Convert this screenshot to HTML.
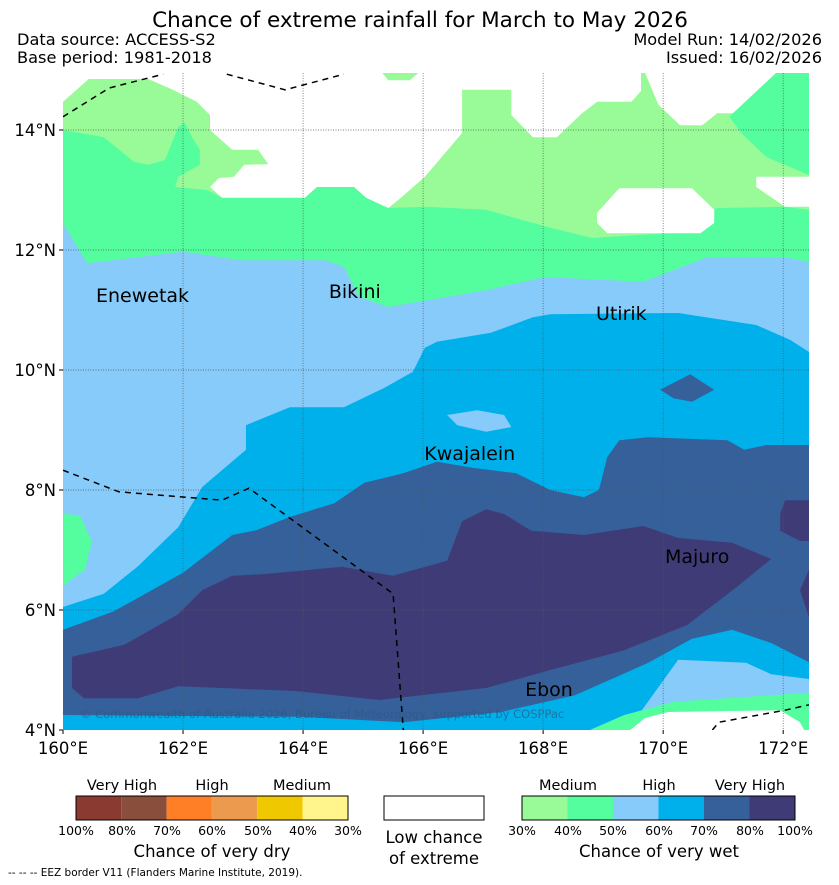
<!DOCTYPE html>
<html><head><meta charset="utf-8">
<style>
body{margin:0;background:#fff;width:839px;height:885px;overflow:hidden;font-family:"DejaVu Sans","Liberation Sans",sans-serif;}
svg{display:block}
</style></head>
<body>
<svg id="chart" width="839" height="885" viewBox="0 0 839 885" xmlns="http://www.w3.org/2000/svg">
<text x="420" y="27" font-size="21.5" text-anchor="middle">Chance of extreme rainfall for March to May 2026</text>
<text x="17" y="45" font-size="16.2">Data source: ACCESS-S2</text>
<text x="17" y="63" font-size="16.2">Base period: 1981-2018</text>
<text x="822" y="45" font-size="16.2" text-anchor="end">Model Run: 14/02/2026</text>
<text x="822" y="63" font-size="16.2" text-anchor="end">Issued: 16/02/2026</text>
<defs><clipPath id="pc"><rect x="63" y="73" width="746" height="657"/></clipPath></defs>
<g id="map" clip-path="url(#pc)"></g>
<g id="axes"></g>
<g id="legend">
 <g>
  <rect x="76" y="796" width="45.3" height="24" fill="#8b3a32"/>
  <rect x="121.3" y="796" width="45.3" height="24" fill="#8a4e3c"/>
  <rect x="166.6" y="796" width="45.3" height="24" fill="#ff7f27"/>
  <rect x="211.9" y="796" width="45.3" height="24" fill="#ec9b4e"/>
  <rect x="257.2" y="796" width="45.3" height="24" fill="#efc800"/>
  <rect x="302.5" y="796" width="45.5" height="24" fill="#fff58c"/>
  <rect x="76" y="796" width="272" height="24" fill="none" stroke="#000" stroke-width="1"/>
 </g>
 <g font-size="14.5" text-anchor="middle">
  <text x="122" y="790">Very High</text><text x="212" y="790">High</text><text x="302" y="790">Medium</text>
  <text x="568" y="790">Medium</text><text x="659" y="790">High</text><text x="750" y="790">Very High</text>
 </g>
 <g font-size="12.5" text-anchor="middle">
  <text x="76" y="835">100%</text><text x="122" y="835">80%</text><text x="167" y="835">70%</text><text x="212" y="835">60%</text><text x="258" y="835">50%</text><text x="303" y="835">40%</text><text x="348" y="835">30%</text>
 </g>
 <text x="212" y="857" font-size="16.5" text-anchor="middle">Chance of very dry</text>
 <rect x="384" y="796" width="100" height="24" fill="#fff" stroke="#000"/>
 <text x="434" y="843" font-size="16.5" text-anchor="middle">Low chance</text>
 <text x="434" y="864" font-size="16.5" text-anchor="middle">of extreme</text>
 <g>
  <rect x="522" y="796" width="45.5" height="24" fill="#98fb98"/>
  <rect x="567.5" y="796" width="45.5" height="24" fill="#54fd9e"/>
  <rect x="613" y="796" width="45.5" height="24" fill="#87cbfa"/>
  <rect x="658.5" y="796" width="45.5" height="24" fill="#00b0eb"/>
  <rect x="704" y="796" width="45.5" height="24" fill="#35609a"/>
  <rect x="749.5" y="796" width="45.5" height="24" fill="#3f3b77"/>
  <rect x="522" y="796" width="273" height="24" fill="none" stroke="#000"/>
 </g>
 <g font-size="12.5" text-anchor="middle">
  <text x="522" y="835">30%</text><text x="568" y="835">40%</text><text x="613" y="835">50%</text><text x="659" y="835">60%</text><text x="704" y="835">70%</text><text x="750" y="835">80%</text><text x="795" y="835">100%</text>
 </g>
 <text x="659" y="857" font-size="16.5" text-anchor="middle">Chance of very wet</text>
</g>
<text x="8" y="876" font-size="10.5">--  --  -- EEZ border V11 (Flanders Marine Institute, 2019).</text>
</svg>
<script>
const lonTicks=[160,162,164,166,168,170,172];
const latTicks=[4,6,8,10,12,14];
const LON0=160,LON1=172.43,LAT0=4,LAT1=14.95;
const X0=63,X1=809,Y0=730,Y1=73;
function xs(lon){return X0+(lon-LON0)/(LON1-LON0)*(X1-X0);}
function ys(lat){return Y0-(lat-LAT0)/(LAT1-LAT0)*(Y0-Y1);}

const C={pg:"#98fb98",g:"#54fd9e",ls:"#87cbfa",b:"#00b0eb",db:"#35609a",dd:"#3f3b77",w:"#ffffff"};

const greenTop=[[160,14.95],[172.43,14.95],[172.43,11.8],[172.03,11.88],[170.73,11.88],[169.67,11.47],[168.03,11.55],[167.05,11.33],[165.42,11.05],[164.93,11.22],[164.68,11.72],[164.37,11.83],[162.97,11.83],[162,11.97],[160.4,11.78],[160,12.45]];
const paleGreen=[[160,14.95],[172.43,14.95],[172.43,12.67],[172.03,12.72],[170.9,12.7],[170.08,12.28],[168.82,12.2],[168.12,12.37],[167.05,12.67],[166.03,12.72],[165.42,12.7],[165.05,12.87],[164.85,13.05],[164.23,13.05],[164.03,12.87],[162.65,12.87],[162.4,13.0],[161.87,13.05],[161.92,13.22],[162.28,13.42],[162.28,13.67],[162.15,13.88],[162.03,14.12],[161.92,14.05],[161.7,13.5],[161.42,13.42],[161.18,13.47],[160.68,13.88],[160,14.0]];
const whiteTop=[[160,14.95],[160,14.47],[160.43,14.85],[161.42,14.85],[161.83,14.67],[162.23,14.47],[162.45,14.25],[162.45,14.0],[162.82,13.67],[163.25,13.67],[163.42,13.43],[163.02,13.42],[162.85,13.22],[162.6,13.2],[162.45,13.05],[162.65,12.87],[164.03,12.87],[164.23,13.05],[164.85,13.05],[165.05,12.87],[165.42,12.7],[165.63,12.87],[166.03,13.22],[166.65,13.95],[166.65,14.67],[167.47,14.67],[167.47,14.25],[167.83,13.88],[168.23,13.88],[168.65,14.28],[168.9,14.47],[169.47,14.47],[169.63,14.65],[169.63,14.95],[169.7,14.95],[169.92,14.42],[170.28,14.08],[170.65,14.08],[170.9,14.28],[171.3,14.28],[171.88,14.95]];
const greenRight=[[171.88,14.95],[172.43,14.95],[172.43,13.25],[171.72,13.55],[171.3,13.95],[171.1,14.22]];
const whiteRight=[[171.55,13.22],[172.43,13.22],[172.43,12.72],[172.03,12.72],[171.55,13.05]];
const whiteMid=[[168.9,12.62],[169.27,13.03],[170.48,13.03],[170.85,12.67],[170.85,12.45],[170.62,12.28],[169.07,12.28],[168.9,12.45]];
const paleTopPatch=[[165.32,14.95],[165.92,14.95],[165.78,14.83],[165.42,14.83]];
const blueZone=[[160,6.05],[160.68,6.27],[161.25,6.73],[161.92,7.38],[162.32,8.05],[163.05,8.67],[163.05,9.08],[163.78,9.38],[164.68,9.38],[165.35,9.7],[165.83,9.97],[166.03,10.37],[166.23,10.47],[167.13,10.62],[167.83,10.88],[168.12,10.93],[170.25,10.95],[171.55,10.75],[172.12,10.5],[172.43,10.3],[172.43,4.85],[171.8,4.93],[171.38,5.12],[170.25,5.17],[169.5,4.13],[169.18,4],[160,4]];
const skyHole=[[166.4,9.25],[166.9,9.33],[167.35,9.25],[167.47,9.05],[167.05,8.97],[166.57,9.08]];
const darkPatch=[[169.95,9.67],[170.45,9.93],[170.85,9.67],[170.48,9.47],[170.17,9.53]];
const darkZone=[[160,5.67],[160.85,5.98],[162,6.62],[162.82,7.25],[163.22,7.33],[163.78,7.55],[164.52,7.78],[165.02,8.12],[165.67,8.28],[166.23,8.47],[166.82,8.37],[167.55,8.28],[168.12,8.0],[168.68,7.88],[168.93,8.0],[169.07,8.55],[169.27,8.83],[169.75,8.88],[171.07,8.83],[171.35,8.67],[171.72,8.75],[172.43,8.75],[172.43,5.13],[171.8,5.45],[171.15,5.67],[170.48,5.52],[169.75,5.12],[168.53,4.58],[167.3,4.3],[165.67,4.13],[163.95,4.22],[160,4.25]];
const darkestZone=[[160.15,5.22],[161.02,5.42],[161.92,5.93],[162.32,6.33],[162.82,6.57],[163.38,6.6],[164.65,6.72],[165.5,6.57],[166.4,6.82],[166.65,7.48],[167.05,7.68],[167.35,7.6],[167.8,7.32],[168.68,7.25],[169.67,7.4],[170.25,7.2],[171.15,7.12],[171.8,6.85],[171.22,6.38],[170.4,5.75],[169.35,5.33],[168.12,5.0],[167.05,4.7],[165.27,4.5],[163.87,4.65],[161.92,4.73],[161.25,4.53],[160.35,4.53],[160.15,4.7]];
const darkestRight1=[[172.03,7.83],[172.43,7.83],[172.43,7.15],[172.28,7.15],[171.95,7.32],[171.95,7.6]];
const darkestRight2=[[172.43,6.67],[172.43,5.88],[172.28,6.33]];
const greenBottom=[[172.43,4.62],[171.38,4.55],[170.17,4.47],[169.35,4.25],[168.78,4],[172.43,4]];
const whiteBottom=[[169.45,4],[169.7,4.2],[170.08,4.3],[171.95,4.33],[172.28,4.13],[172.35,4]];
const greenLeft=[[160,7.6],[160.28,7.58],[160.48,7.15],[160.37,6.68],[160,6.4]];

const eez1=[[160,14.22],[160.77,14.7],[161.67,14.93]];
const eez2=[[162.73,14.93],[163.7,14.67],[164.68,14.93]];
const eez3=[[160,8.33],[160.93,7.97],[162.65,7.83],[163.1,8.03],[165.5,6.27],[165.67,4]];
const eez4=[[170.82,4],[170.93,4.13],[172.03,4.33],[172.43,4.42]];

const placeNames=["Enewetak","Bikini","Utirik","Kwajalein","Majuro","Ebon"];
const placeLon=[160.55,164.43,168.88,166.02,170.03,167.7];
const placeLat=[11.13,11.2,10.83,8.5,6.78,4.57];

const NS="http://www.w3.org/2000/svg";
const map=document.getElementById('map');
const axes=document.getElementById('axes');
function pts(a){return a.map(p=>xs(p[0]).toFixed(1)+","+ys(p[1]).toFixed(1)).join(" ");}
function poly(a,fill,name){
 const e=document.createElementNS(NS,'polygon');
 e.setAttribute('points',pts(a));e.setAttribute('fill',fill);
 
 
 map.appendChild(e);
}
const bg=document.createElementNS(NS,'rect');
bg.setAttribute('x',X0);bg.setAttribute('y',Y1);bg.setAttribute('width',X1-X0);bg.setAttribute('height',Y0-Y1);bg.setAttribute('fill',C.ls);


map.appendChild(bg);
poly(greenTop,C.g,'contour-40-50-north');
poly(paleGreen,C.pg,'contour-30-40-north');
poly(whiteTop,C.w,'low-chance-north');
poly(greenRight,C.g,'contour-40-50-northeast');
poly(whiteRight,C.w,'low-chance-east');
poly(whiteMid,C.w,'low-chance-central');
poly(paleTopPatch,C.pg,'contour-30-40-patch');
poly(greenLeft,C.g,'contour-40-50-west');
poly(blueZone,C.b,'contour-60-70');
poly(skyHole,C.ls,'contour-50-60-patch');
poly(darkPatch,C.db,'contour-70-80-patch');
poly(darkZone,C.db,'contour-70-80');
poly(darkestZone,C.dd,'contour-80-100');
poly(darkestRight1,C.dd,'contour-80-100-east');
poly(darkestRight2,C.dd,'contour-80-100-east2');
poly(greenBottom,C.g,'contour-40-50-south');
poly(whiteBottom,C.w,'low-chance-south');

lonTicks.forEach(l=>{if(l<=LON0)return;
 const g=document.createElementNS(NS,'line');
 g.setAttribute('x1',xs(l));g.setAttribute('x2',xs(l));g.setAttribute('y1',Y1);g.setAttribute('y2',Y0);
 g.setAttribute('stroke','#555');g.setAttribute('stroke-width','0.7');g.setAttribute('stroke-dasharray','1,1.5');
 
 
 map.appendChild(g);});
latTicks.forEach(l=>{if(l<=LAT0)return;
 const g=document.createElementNS(NS,'line');
 g.setAttribute('y1',ys(l));g.setAttribute('y2',ys(l));g.setAttribute('x1',X0);g.setAttribute('x2',X1);
 g.setAttribute('stroke','#555');g.setAttribute('stroke-width','0.7');g.setAttribute('stroke-dasharray','1,1.5');
 
 
 map.appendChild(g);});
[eez1,eez2,eez3,eez4].forEach(a=>{
 const e=document.createElementNS(NS,'polyline');
 e.setAttribute('points',pts(a));e.setAttribute('fill','none');e.setAttribute('stroke','#000');
 e.setAttribute('stroke-width','1.5');e.setAttribute('stroke-dasharray','6,5');
 
 
 map.appendChild(e);});
const cp=document.createElementNS(NS,'text');
cp.setAttribute('x',80);cp.setAttribute('y',718);cp.setAttribute('font-size','11.5');cp.setAttribute('fill','#2a5a88');cp.setAttribute('fill-opacity','0.7');
cp.textContent="© Commonwealth of Australia 2026, Bureau of Meteorology, supported by COSPPac";


map.appendChild(cp);
placeNames.forEach((n,i)=>{
 const t=document.createElementNS(NS,'text');
 t.setAttribute('x',xs(placeLon[i]));t.setAttribute('y',ys(placeLat[i]));t.setAttribute('font-size','19');
 t.textContent=n;
 
 
 map.appendChild(t);});
lonTicks.forEach(l=>{
 const t=document.createElementNS(NS,'text');
 t.setAttribute('x',xs(l));t.setAttribute('y',754);t.setAttribute('font-size','16.5');t.setAttribute('text-anchor','middle');
 t.textContent=l+"°E";
 
 
 axes.appendChild(t);
 const k=document.createElementNS(NS,'line');
 k.setAttribute('x1',xs(l));k.setAttribute('x2',xs(l));k.setAttribute('y1',Y0);k.setAttribute('y2',Y0+4);k.setAttribute('stroke','#000');
 
 
 axes.appendChild(k);});
latTicks.forEach(l=>{
 const t=document.createElementNS(NS,'text');
 t.setAttribute('x',56);t.setAttribute('y',ys(l)+6);t.setAttribute('font-size','16.5');t.setAttribute('text-anchor','end');
 t.textContent=l+"°N";
 
 
 axes.appendChild(t);
 const k=document.createElementNS(NS,'line');
 k.setAttribute('x1',X0-4);k.setAttribute('x2',X0);k.setAttribute('y1',ys(l));k.setAttribute('y2',ys(l));k.setAttribute('stroke','#000');
 
 
 axes.appendChild(k);});
</script>
</body></html>
